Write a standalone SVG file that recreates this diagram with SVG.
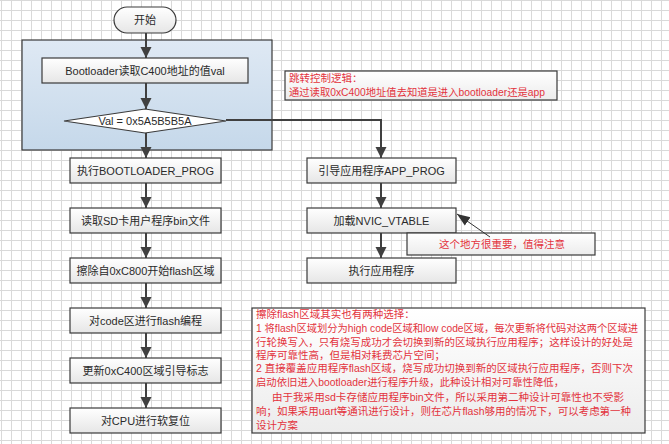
<svg xmlns="http://www.w3.org/2000/svg" width="669" height="444" viewBox="0 0 669 444">
<defs>
<pattern id="grid" x="1" y="0" width="10" height="10" patternUnits="userSpaceOnUse">
<path d="M0.5,0 V10 M0,0.5 H10" fill="none" stroke="#d9d9d9" stroke-width="1"/>
</pattern>
<linearGradient id="boxg" x1="0" y1="0" x2="0" y2="1">
<stop offset="0" stop-color="#ffffff"/>
<stop offset="1" stop-color="#e6e6e6"/>
</linearGradient>
<linearGradient id="blueg" x1="0" y1="0" x2="0" y2="1">
<stop offset="0" stop-color="#dfe9f4"/>
<stop offset="1" stop-color="#c5d8ea"/>
</linearGradient>
<linearGradient id="noteg" x1="0" y1="0" x2="0" y2="1">
<stop offset="0" stop-color="#ffffff"/>
<stop offset="1" stop-color="#ececec"/>
</linearGradient>
<marker id="arr" markerUnits="userSpaceOnUse" markerWidth="12" markerHeight="12" viewBox="0 0 12 12" refX="11" refY="6" orient="auto">
<path d="M0,0.5 L11,6 L0,11.5 z" fill="#404040"/>
</marker>
<marker id="arr2" markerUnits="userSpaceOnUse" markerWidth="14" markerHeight="12" viewBox="0 0 14 12" refX="13" refY="6" orient="auto">
<path d="M0,1 L13,6 L0,11 z" fill="#333"/>
</marker>
</defs>
<style>
.box{fill:url(#boxg);stroke:#3a3a3a;stroke-width:1.2}
.lbl{font-family:"Liberation Sans","Noto Sans CJK SC",sans-serif;font-size:11px;fill:#2a2a2a;text-anchor:middle}
.note{fill:url(#noteg);stroke:#3a3a3a;stroke-width:1.2}
.red{font-family:"Liberation Sans","Noto Sans CJK SC",sans-serif;font-size:10.5px;fill:#e3333d}
.conn{fill:none;stroke:#404040;stroke-width:2}
</style>
<rect width="669" height="444" fill="#ffffff"/>
<rect width="669" height="444" fill="url(#grid)"/>

<g id="group-bg">
<rect x="22" y="40" width="250" height="110" fill="url(#blueg)" stroke="#3a3a3a" stroke-width="1.2"/>
</g>

<g id="connectors">
<line class="conn" x1="146" y1="33" x2="146" y2="58" marker-end="url(#arr)"/>
<line class="conn" x1="146" y1="83" x2="146" y2="109" marker-end="url(#arr)"/>
<line class="conn" x1="146" y1="133" x2="146" y2="158" marker-end="url(#arr)"/>
<path class="conn" d="M226,120 H381 V158" marker-end="url(#arr)"/>
<line class="conn" x1="146" y1="183" x2="146" y2="208" marker-end="url(#arr)"/>
<line class="conn" x1="146" y1="233" x2="146" y2="258" marker-end="url(#arr)"/>
<line class="conn" x1="146" y1="283" x2="146" y2="308" marker-end="url(#arr)"/>
<line class="conn" x1="146" y1="333" x2="146" y2="358" marker-end="url(#arr)"/>
<line class="conn" x1="146" y1="383" x2="146" y2="408" marker-end="url(#arr)"/>
<line class="conn" x1="381" y1="183" x2="381" y2="208" marker-end="url(#arr)"/>
<line class="conn" x1="381" y1="233" x2="381" y2="258" marker-end="url(#arr)"/>
</g>

<g id="start">
<rect x="114" y="7" width="62" height="26" rx="13" ry="13" class="box"/>
<text class="lbl" x="145" y="24">开始</text>
</g>

<g id="read-c400">
<rect x="42" y="58" width="206" height="25" class="box"/>
<text class="lbl" x="145" y="74.5">Bootloader读取C400地址的值val</text>
</g>

<g id="decision">
<polygon points="64,121 145,109 226,121 145,133" fill="#ffffff" stroke="#3a3a3a" stroke-width="1.2"/>
<text class="lbl" x="145" y="125">Val = 0x5A5B5B5A</text>
</g>

<g id="exec-bootloader">
<rect x="70" y="158" width="151" height="25" class="box"/>
<text class="lbl" x="145.5" y="174.5">执行BOOTLOADER_PROG</text>
</g>
<g id="read-sd">
<rect x="70" y="208" width="151" height="25" class="box"/>
<text class="lbl" x="145.5" y="224.5">读取SD卡用户程序bin文件</text>
</g>
<g id="erase-flash">
<rect x="70" y="258" width="151" height="25" class="box"/>
<text class="lbl" x="145.5" y="274.5">擦除自0xC800开始flash区域</text>
</g>
<g id="program-flash">
<rect x="70" y="308" width="151" height="25" class="box"/>
<text class="lbl" x="145.5" y="324.5">对code区进行flash编程</text>
</g>
<g id="update-flag">
<rect x="70" y="358" width="151" height="25" class="box"/>
<text class="lbl" x="145.5" y="374.5">更新0xC400区域引导标志</text>
</g>
<g id="soft-reset">
<rect x="70" y="408" width="151" height="25" class="box"/>
<text class="lbl" x="145.5" y="424.5">对CPU进行软复位</text>
</g>

<g id="boot-app">
<rect x="307" y="158" width="149" height="25" class="box"/>
<text class="lbl" x="381.5" y="174.5">引导应用程序APP_PROG</text>
</g>
<g id="load-nvic">
<rect x="307" y="208" width="149" height="25" class="box"/>
<text class="lbl" x="381.5" y="224.5">加载NVIC_VTABLE</text>
</g>
<g id="exec-app">
<rect x="307" y="258" width="149" height="25" class="box"/>
<text class="lbl" x="381.5" y="274.5">执行应用程序</text>
</g>

<g id="note-jump">
<rect x="285" y="71" width="272" height="29" class="note"/>
<text class="red" x="289" y="82">跳转控制逻辑：</text>
<text class="red" x="289" y="96" textLength="256" lengthAdjust="spacingAndGlyphs">通过读取0xC400地址值去知道是进入bootloader还是app</text>
</g>

<g id="note-important">
<rect x="407" y="233" width="188" height="22" class="note"/>
<text class="red" x="439" y="248">这个地方很重要，值得注意</text>
<line x1="490" y1="237" x2="457" y2="214" stroke="#333" stroke-width="1" marker-end="url(#arr2)"/>
</g>

<g id="note-erase">
<rect x="252" y="308" width="393" height="125" class="note"/>
<text class="red" x="256" y="318">擦除flash区域其实也有两种选择：</text>
<text class="red" x="256" y="332" textLength="382" lengthAdjust="spacingAndGlyphs">1 将flash区域划分为high code区域和low code区域，每次更新将代码对这两个区域进</text>
<text class="red" x="256" y="346" textLength="377" lengthAdjust="spacingAndGlyphs">行轮换写入，只有烧写成功才会切换到新的区域执行应用程序；这样设计的好处是</text>
<text class="red" x="256" y="359">程序可靠性高，但是相对耗费芯片空间；</text>
<text class="red" x="256" y="372" textLength="377" lengthAdjust="spacingAndGlyphs">2 直接覆盖应用程序flash区域，烧写成功切换到新的区域执行应用程序，否则下次</text>
<text class="red" x="256" y="386" textLength="308" lengthAdjust="spacingAndGlyphs">启动依旧进入bootloader进行程序升级，此种设计相对可靠性降低，</text>
<text class="red" x="272" y="401" textLength="352" lengthAdjust="spacingAndGlyphs">由于我采用sd卡存储应用程序bin文件，所以采用第二种设计可靠性也不受影</text>
<text class="red" x="256" y="415" textLength="375" lengthAdjust="spacingAndGlyphs">响；如果采用uart等通讯进行设计，则在芯片flash够用的情况下，可以考虑第一种</text>
<text class="red" x="256" y="429">设计方案</text>
</g>
</svg>
